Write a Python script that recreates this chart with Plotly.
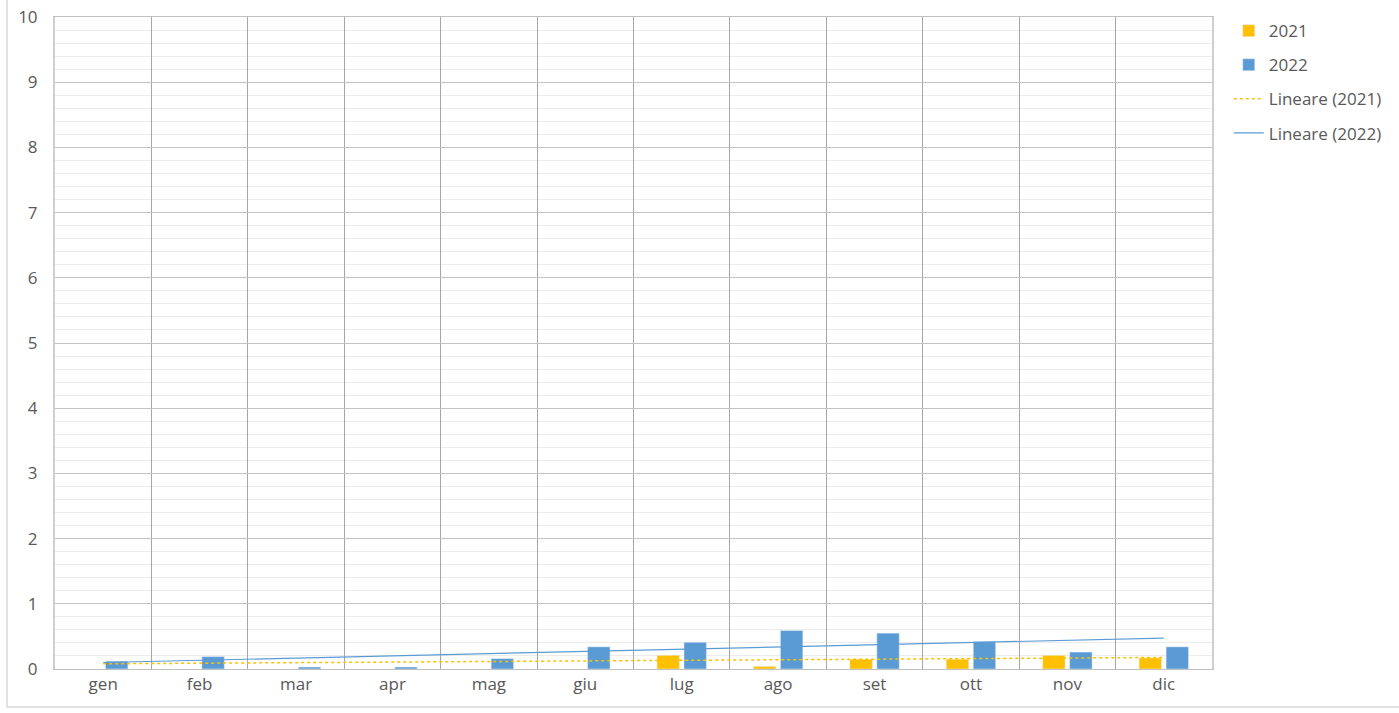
import numpy as np
import plotly.graph_objects as go

months = ["gen", "feb", "mar", "apr", "mag", "giu", "lug", "ago", "set", "ott", "nov", "dic"]
val_2021 = [None, None, None, None, None, None, 0.21, 0.04, 0.15, 0.15, 0.21, 0.17]
val_2022 = [0.12, 0.19, 0.03, 0.03, 0.16, 0.34, 0.41, 0.59, 0.55, 0.42, 0.26, 0.34]

col_2021 = "#FFC000"
col_2022 = "#5B9BD5"
text_col = "#595959"


def trend(values):
    # linear trendline like Excel: fit on the non-empty points, draw over all months
    xs = np.arange(1, len(values) + 1)
    pts = [(x, v) for x, v in zip(xs, values) if v is not None]
    px, py = zip(*pts)
    slope, icpt = np.polyfit(px, py, 1)
    return slope * xs + icpt


fig = go.Figure()

fig.add_trace(go.Bar(x=months, y=val_2021, name="2021", marker_color=col_2021,
                     legendgroup="a"))
fig.add_trace(go.Bar(x=months, y=val_2022, name="2022", marker_color=col_2022,
                     legendgroup="b"))
fig.add_trace(go.Scatter(x=months, y=trend(val_2021), name="Lineare (2021)", mode="lines",
                         line=dict(color=col_2021, width=1.5, dash="dot"), legendgroup="c"))
fig.add_trace(go.Scatter(x=months, y=trend(val_2022), name="Lineare (2022)", mode="lines",
                         line=dict(color=col_2022, width=1.2), legendgroup="d"))

# outer chart frame
fig.add_shape(type="rect", xref="paper", yref="paper",
              x0=-0.0415, x1=1.3, y0=-0.0583, y1=1.2,
              line=dict(color="#d9d9d9", width=1.5), layer="below")

fig.update_xaxes(
    type="category",
    tickson="boundaries",
    showgrid=True,
    gridcolor="#a6a6a6",
    gridwidth=1,
    showline=True,
    linecolor="#bfbfbf",
    linewidth=1,
    mirror=True,
    ticks="",
    automargin=False,
    tickfont=dict(size=17, color=text_col),
)
fig.update_yaxes(
    range=[0, 10],
    dtick=1,
    showgrid=True,
    gridcolor="#c4c4c4",
    gridwidth=1,
    minor=dict(dtick=0.2, showgrid=True, gridcolor="#ececec", gridwidth=1),
    showline=True,
    linecolor="#cfcfcf",
    linewidth=2,
    mirror=True,
    zeroline=False,
    ticks="",
    automargin=False,
    ticklabelstandoff=12,
    tickfont=dict(size=17, color=text_col),
)

fig.update_layout(
    width=1399,
    height=713,
    margin=dict(l=55, r=187, t=17, b=44),
    plot_bgcolor="white",
    paper_bgcolor="white",
    barmode="group",
    bargap=0.44,
    bargroupgap=0.17,
    font=dict(family="Open Sans, sans-serif", size=17, color=text_col),
    legend=dict(
        x=1.0145, y=1.006, xanchor="left", yanchor="top",
        tracegroupgap=9,
        itemwidth=30,
        font=dict(size=17, color=text_col),
    ),
)

# drop the page's default body margin so the figure sits at the window's corner
fig.write_html("out.html", config=dict(displayModeBar=False),
               post_script="document.body.style.margin='0px';")
